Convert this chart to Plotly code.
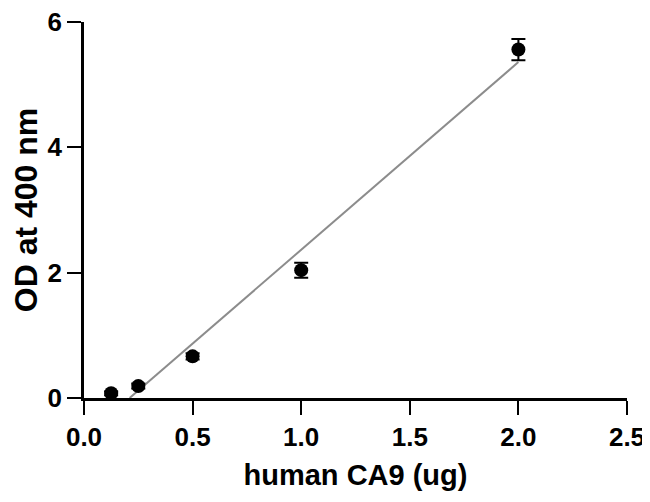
import plotly.graph_objects as go

# data
dose_ug = [0.125, 0.25, 0.5, 1.0, 2.0]
od400 = [0.075, 0.19, 0.665, 2.04, 5.56]
od400_err = [0.03, 0.04, 0.05, 0.12, 0.17]

# linear fit endpoints
fit_x = [0.21, 2.0]
fit_y = [0.0, 5.36]

x_ticks = [0, 0.5, 1.0, 1.5, 2.0, 2.5]
x_ticklabels = ["0.0", "0.5", "1.0", "1.5", "2.0", "2.5"]
y_ticks = [0, 2, 4, 6]
y_ticklabels = ["0", "2", "4", "6"]

font_family = "Liberation Sans, Arial, sans-serif"

fig = go.Figure()
fig.add_trace(go.Scatter(
    x=fit_x, y=fit_y, mode="lines",
    line=dict(color="#8c8c8c", width=2),
    hoverinfo="skip", showlegend=False, cliponaxis=False,
))
fig.add_trace(go.Scatter(
    x=dose_ug, y=od400, mode="markers",
    marker=dict(color="black", size=14, line=dict(width=0)),
    error_y=dict(type="data", array=od400_err, visible=True,
                 color="black", thickness=2, width=7),
    showlegend=False, cliponaxis=False,
))

axis_common = dict(
    showline=True, linecolor="black", linewidth=2.5,
    ticks="outside", ticklen=14, tickwidth=2, tickcolor="black",
    showgrid=False, zeroline=False, automargin=False,
    ticklabeloverflow="allow",
    tickfont=dict(family=font_family, size=26, color="black", weight="bold"),
)

fig.update_layout(
    width=642, height=494,
    margin=dict(l=76, r=23, t=14, b=104),
    paper_bgcolor="white", plot_bgcolor="white",
    xaxis=dict(
        range=[0, 2.5], tickvals=x_ticks, ticktext=x_ticklabels,
        title=dict(text="human CA9 (ug)", standoff=14,
                   font=dict(family=font_family, size=29, color="black", weight="bold")),
        **axis_common,
    ),
    yaxis=dict(
        range=[0, 6], tickvals=y_ticks, ticktext=y_ticklabels,
        title=dict(text="OD at 400 nm", standoff=12,
                   font=dict(family=font_family, size=32, color="black", weight="bold")),
        **axis_common,
    ),
)

fig.write_html("out.html")
